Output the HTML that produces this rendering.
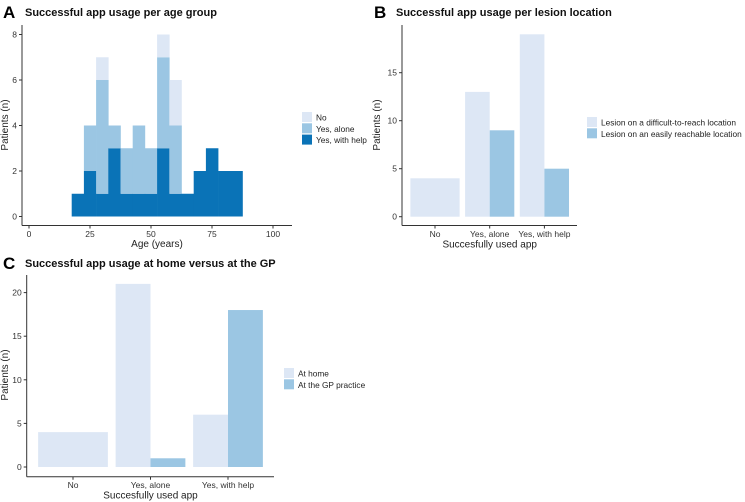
<!DOCTYPE html>
<html><head><meta charset="utf-8">
<style>
body{margin:0;background:#fff;font-family:"Liberation Sans",sans-serif;}
svg{display:block}
</style></head>
<body>
<svg id="s" width="745" height="502" xmlns="http://www.w3.org/2000/svg" font-family="Liberation Sans, sans-serif"></svg>
<script>
// Panel A data (histogram, bins of width 5 centered on these ages)
const ageBins = [20,25,30,35,40,45,50,55,60,65,70,75,80,85];
const helpCounts = [1,2,1,3,1,1,1,3,1,1,2,3,2,2];
const aloneCounts = [0,2,5,1,2,3,2,4,3,0,0,0,0,0];
const noCounts = [0,0,1,0,0,0,0,1,2,0,0,0,0,0];
const ageTicks = [0,25,50,75,100];
const aTicksY = [0,2,4,6,8];
// Panel B
const bCats = ["No","Yes, alone","Yes, with help"];
const bDifficult = [4,13,19];
const bEasy = [0,9,5];
const bTicksY = [0,5,10,15];
// Panel C
const cCats = ["No","Yes, alone","Yes, with help"];
const cHome = [4,21,6];
const cGP = [0,1,18];
const cTicksY = [0,5,10,15,20];

const C_LIGHT="#dde7f5", C_MID="#9bc6e3", C_DARK="#0a73b7";
const svg=document.getElementById('s');
const NS="http://www.w3.org/2000/svg";
function el(tag,attrs,parent,text){
  const e=document.createElementNS(NS,tag);
  for(const k in attrs)e.setAttribute(k,attrs[k]);
  if(text!==undefined)e.textContent=text;
  (parent||svg).appendChild(e);return e;
}
function axes(g,x0,x1,yTop,yBot){
  const a=el('line',{x1:x0,y1:yTop,x2:x0,y2:yBot,stroke:'#333','stroke-width':1},g);
  
  
  const b=el('line',{x1:x0,y1:yBot,x2:x1,y2:yBot,stroke:'#333','stroke-width':1},g);
  
  
}
function yTicks(g,ticks,sy,x0){
  ticks.forEach(t=>{
    const y=sy(t);
    el('line',{x1:x0-3,y1:y,x2:x0,y2:y,stroke:'#333'},g);
    const tx=el('text',{x:x0-5,y:y+3,'font-size':8.5,'text-anchor':'end',fill:'#333'},g,t);
    
    
  });
}
function title(g,letter,txt,x,y){
  const l=el('text',{x:x,y:y+2,'font-size':17,'font-weight':'bold',fill:'#000'},g,letter);
  
  
  const t=el('text',{x:x+22,y:y,'font-size':11,'font-weight':'bold',fill:'#111'},g,txt);
  
  
}
function axisTitles(g,xt,xx,xy,yt,yx,yy){
  const a=el('text',{x:xx,y:xy,'font-size':10,'text-anchor':'middle',fill:'#222'},g,xt);
  
  
  const b=el('text',{x:yx,y:yy,'font-size':10,'text-anchor':'middle',fill:'#222',transform:`rotate(-90 ${yx} ${yy})`},g,yt);
  
  
}
function legend(g,x,y,items){
  items.forEach((it,i)=>{
    const r=el('rect',{x:x,y:y+i*11.3-5,width:10,height:10,fill:it[1]},g);
    
    
    const t=el('text',{x:x+14,y:y+i*11.3+3.5,'font-size':8.3,fill:'#222'},g,it[0]);
    
    
  });
}

// ---- Panel A ----
{
  const g=el('g',{});
  
  
  const sx=v=>29+v*2.44, sy=v=>216.5-v*22.75;
  title(g,'A','Successful app usage per age group',3,16);
  ageBins.forEach((c,i)=>{
    const x0=sx(c-2.5), w=sx(c+2.5)-sx(c-2.5);
    const stacks=[[helpCounts[i],C_DARK,'bar-with-help'],[aloneCounts[i],C_MID,'bar-alone'],[noCounts[i],C_LIGHT,'bar-no']];
    let base=0;
    stacks.forEach(s=>{
      if(s[0]>0){
        const r=el('rect',{x:x0,y:sy(base+s[0]),width:w+0.3,height:sy(base)-sy(base+s[0]),fill:s[1]},g);
        
        
      }
      base+=s[0];
    });
  });
  axes(g,22,292,25,225.5);
  yTicks(g,aTicksY,sy,22);
  ageTicks.forEach(t=>{
    el('line',{x1:sx(t),y1:225.5,x2:sx(t),y2:228.5,stroke:'#333'},g);
    const tx=el('text',{x:sx(t),y:237,'font-size':8.5,'text-anchor':'middle',fill:'#333'},g,t);
    
    
  });
  axisTitles(g,'Age (years)',157,247,'Patients (n)',8,125);
  legend(g,302,117,[['No',C_LIGHT],['Yes, alone',C_MID],['Yes, with help',C_DARK]]);
}
// grouped bar panel
function grouped(cfg){
  const g=el('g',{});
  
  
  const sy=v=>cfg.y0-v*cfg.k;
  title(g,cfg.letter,cfg.title,cfg.tx,cfg.ty);
  const halfW=cfg.spacing*0.45;
  cfg.cats.forEach((c,i)=>{
    const cx=cfg.cx0+i*cfg.spacing;
    const s1=cfg.s1[i], s2=cfg.s2[i];
    if(s2===0){
      const r=el('rect',{x:cx-halfW,y:sy(s1),width:halfW*2,height:sy(0)-sy(s1),fill:C_LIGHT},g);
      
      
    }else{
      const r=el('rect',{x:cx-halfW,y:sy(s1),width:halfW,height:sy(0)-sy(s1),fill:C_LIGHT},g);
      
      
      const r2=el('rect',{x:cx,y:sy(s2),width:halfW,height:sy(0)-sy(s2),fill:C_MID},g);
      
      
    }
    el('line',{x1:cx,y1:cfg.axY,x2:cx,y2:cfg.axY+3,stroke:'#333'},g);
    const tx=el('text',{x:cx,y:cfg.axY+11.5,'font-size':8.5,'text-anchor':'middle',fill:'#333'},g,c);
    
    
  });
  axes(g,cfg.axX,cfg.axX1,cfg.axTop,cfg.axY);
  yTicks(g,cfg.ticks,sy,cfg.axX);
  axisTitles(g,'Succesfully used app',cfg.cx0+cfg.spacing,cfg.axY+22,'Patients (n)',cfg.ylx,cfg.yly);
  legend(g,cfg.lx,cfg.ly,cfg.leg);
}
grouped({name:'panel-b-lesion-location',letter:'B',title:'Successful app usage per lesion location',tx:374,ty:16,
  cats:bCats,s1:bDifficult,s2:bEasy,n1:'difficult',n2:'easy',y0:216.7,k:9.6,cx0:435,spacing:54.7,
  axX:402,axX1:577,axTop:25,axY:225.5,ticks:bTicksY,ylx:380,yly:125,lx:587,ly:122,
  leg:[['Lesion on a difficult-to-reach location',C_LIGHT],['Lesion on an easily reachable location',C_MID]]});
grouped({name:'panel-c-home-vs-gp',letter:'C',title:'Successful app usage at home versus at the GP',tx:3,ty:267,
  cats:cCats,s1:cHome,s2:cGP,n1:'home',n2:'gp',y0:467,k:8.72,cx0:73,spacing:77.5,
  axX:26.7,axX1:274,axTop:275,axY:476.7,ticks:cTicksY,ylx:8,yly:375,lx:284,ly:373,
  leg:[['At home',C_LIGHT],['At the GP practice',C_MID]]});
</script>
</body></html>
